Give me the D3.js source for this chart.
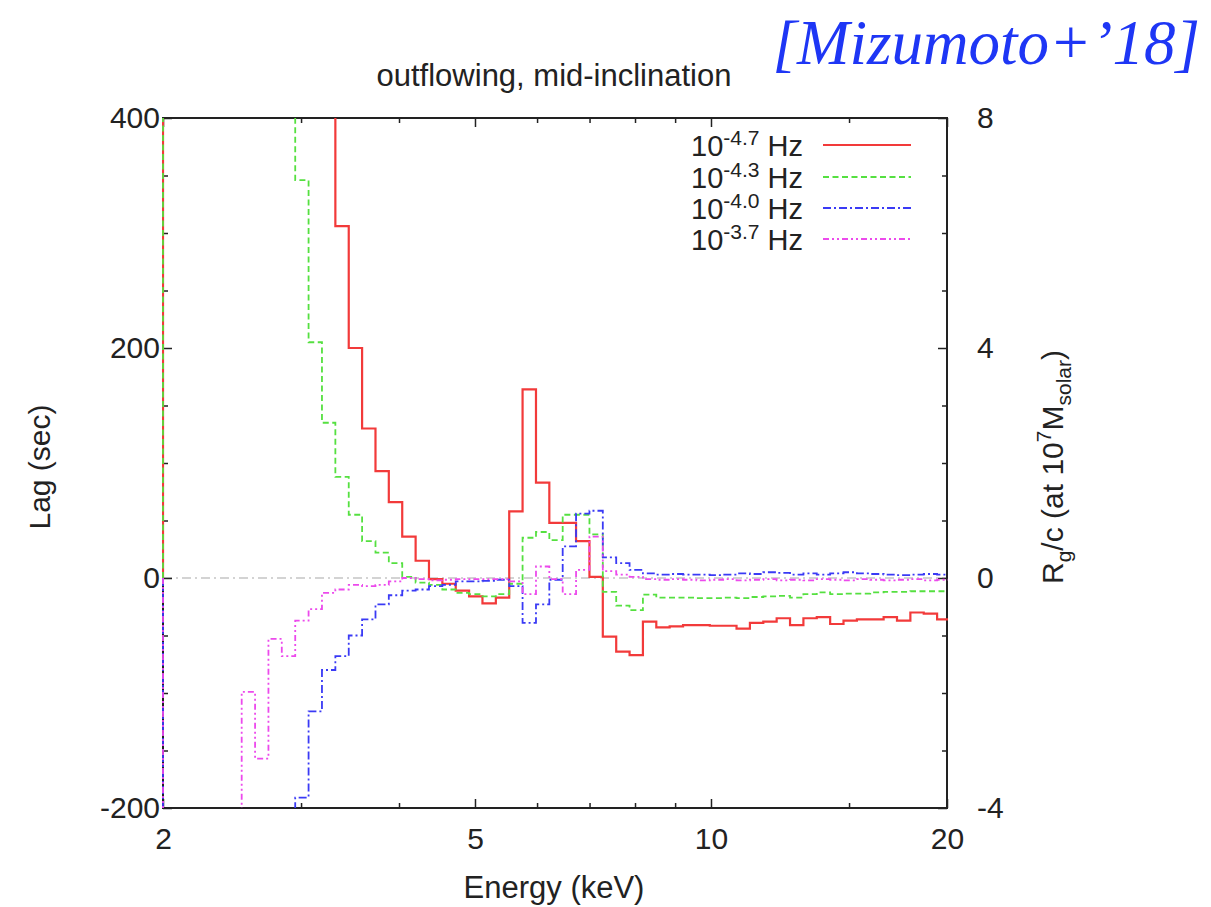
<!DOCTYPE html>
<html><head><meta charset="utf-8">
<script src="https://cdn.jsdelivr.net/npm/d3@7"></script>
<style>body{margin:0;background:#fff;} svg{display:block;}</style>
</head><body>
<svg id="c" width="1211" height="907"></svg>
<script>
// ---- data ----
const energyEdges = [2.000, 2.071, 2.154, 2.240, 2.330, 2.423, 2.520, 2.621, 2.726, 2.835,
  2.949, 3.067, 3.190, 3.318, 3.451, 3.589, 3.733, 3.882, 4.038, 4.200,
  4.368, 4.543, 4.725, 4.914, 5.111, 5.316, 5.529, 5.750, 5.981, 6.220,
  6.469, 6.728, 6.998, 7.278, 7.570, 7.873, 8.188, 8.516, 8.857, 9.212,
  9.581, 9.965, 10.364, 10.779, 11.211, 11.660, 12.127, 12.613, 13.118, 13.643,
  14.190, 14.758, 15.349, 15.964, 16.603, 17.268, 17.960, 18.679, 19.427, 20.205];

const lagF47 = [1500, 1400, 1300, 1200, 1100, 1000, 900, 800, 720, 640,
  570, 500, 440, 306, 200, 130, 93, 66, 36, 15,
  -1, -5, -11, -16, -22, -17, 58, 164, 83, 48,
  48, 32, 1, -51, -64, -67, -38, -43, -42, -41,
  -41, -41.5, -41.5, -44, -39, -38, -35, -41, -35, -34,
  -40, -37, -36, -36, -34, -37, -30, -31, -36];

const lagF43 = [1200, 1100, 1000, 900, 800, 720, 640, 570, 500, 440,
  346, 205, 135, 88, 55, 32, 22, 13, 1, -4,
  -6, -10, -13, -14, -16, -14, -5, 35, 40, 33,
  55, 55, 38, -12, -24, -28, -14.5, -17, -17, -17,
  -17.5, -17.5, -17, -17.5, -16.5, -16, -15.5, -17, -14, -12.5,
  -14, -13.5, -13.5, -12.5, -12, -12, -11.5, -11.5, -11.5];

const lagF40 = [-600, -560, -520, -480, -440, -400, -360, -320, -280, -240,
  -191, -116, -80, -68, -50, -36, -23, -15, -11, -10,
  -7, -6, -3, -3, -2.5, -1.5, -7, -39, -23, -1.5,
  27.5, 56, 58.5, 18, 13, 7, 4, 3, 3.5, 3,
  3, 2.5, 3, 4, 3.5, 5, 4.5, 3, 4, 3,
  4, 5, 4, 3.5, 3, 2.5, 3, 3.5, 3];

const lagF37 = [-500, -450, -400, -350, -300, -250, -99, -157, -53, -68,
  -37, -27, -13, -10, -6, -7, -6, -3, 0, -1,
  -2, -1.5, -1, -1, -1, -1, -3, -14, 10, -1,
  -14, 7, 36, 6, 3, 1, -1, -1.5, -1, -1.5,
  -2, -1.5, -1, -2, -1.5, -1, -2, -1.5, -2, -1,
  -1.5, -2, -1, -1.5, -2, -1.5, -1, -2, -1.5];

const seriesNames = ["-4.7", "-4.3", "-4.0", "-3.7"];
const xTickMajor = [2, 5, 10, 20];
const xTickMinor = [3, 4, 6, 7, 8, 9, 15];
const yTickMajor = [-200, 0, 200, 400];
const yTickMinor = [-150, -100, -50, 50, 100, 150, 250, 300, 350];
const y2TickMajor = [-4, 0, 4, 8];
const y2TickMinor = [-3, -2, -1, 1, 2, 3, 5, 6, 7];

// ---- layout ----
const svg = d3.select("#c");
const L = 163, R = 947, T = 118, B = 808;
const FONT = "'Liberation Sans', Arial, Helvetica, sans-serif";
const x = d3.scaleLog().domain([2, 20]).range([L, R]);
const y = d3.scaleLinear().domain([-200, 400]).range([B, T]);
const y2 = d3.scaleLinear().domain([-4, 8]).range([B, T]);
const fmt = d => String(d);

const styles = [
  {data: lagF47, color: "#f23a3a", width: 2.2, dash: null},
  {data: lagF43, color: "#55e040", width: 1.8, dash: "6,3.5"},
  {data: lagF40, color: "#3a3af5", width: 1.8, dash: "8,3,2,3"},
  {data: lagF37, color: "#ec4aec", width: 1.8, dash: "6,3,2,3,2,3"}
];

svg.append("defs").append("clipPath").attr("id", "clip")
  .append("rect").attr("x", L - 1).attr("y", T).attr("width", R - L + 2).attr("height", B - T);

// zero axis
svg.append("line").attr("x1", L).attr("x2", R).attr("y1", y(0)).attr("y2", y(0))
  .attr("stroke", "#a8a8a8").attr("stroke-width", 1.2).attr("stroke-dasharray", "9,4,2,4");

// axes
function styleAxis(g) {
  g.select(".domain").remove();
  g.selectAll(".tick line").attr("stroke", "#222").attr("stroke-width", 1.5);
  g.selectAll(".tick text").attr("font-family", FONT).attr("font-size", 30).attr("fill", "#222");
}
svg.append("g").attr("transform", `translate(0,${B})`)
  .call(d3.axisBottom(x).tickValues(xTickMajor).tickFormat(fmt).tickSize(-9).tickPadding(20))
  .call(styleAxis);
svg.append("g").attr("transform", `translate(0,${B})`)
  .call(d3.axisBottom(x).tickValues(xTickMinor).tickFormat("").tickSize(-5))
  .call(styleAxis);
svg.append("g").attr("transform", `translate(0,${T})`)
  .call(d3.axisTop(x).tickValues(xTickMajor).tickFormat("").tickSize(-9))
  .call(styleAxis);
svg.append("g").attr("transform", `translate(0,${T})`)
  .call(d3.axisTop(x).tickValues(xTickMinor).tickFormat("").tickSize(-5))
  .call(styleAxis);
svg.append("g").attr("transform", `translate(${L},0)`)
  .call(d3.axisLeft(y).tickValues(yTickMajor).tickFormat(fmt).tickSize(-9).tickPadding(3))
  .call(styleAxis);
svg.append("g").attr("transform", `translate(${L},0)`)
  .call(d3.axisLeft(y).tickValues(yTickMinor).tickFormat("").tickSize(-5))
  .call(styleAxis);
svg.append("g").attr("transform", `translate(${R},0)`)
  .call(d3.axisRight(y2).tickValues(y2TickMajor).tickFormat(fmt).tickSize(-9).tickPadding(30))
  .call(styleAxis);
svg.append("g").attr("transform", `translate(${R},0)`)
  .call(d3.axisRight(y2).tickValues(y2TickMinor).tickFormat("").tickSize(-5))
  .call(styleAxis);

// frame
svg.append("rect").attr("x", L).attr("y", T).attr("width", R - L).attr("height", B - T)
  .attr("fill", "none").attr("stroke", "#222").attr("stroke-width", 2);

// step curves
const line = d3.line().x(d => x(d[0])).y(d => y(d[1]));
function stepPoints(vals) {
  const pts = [[energyEdges[0], 0]];
  vals.forEach((v, i) => { pts.push([energyEdges[i], v]); pts.push([energyEdges[i + 1], v]); });
  return pts;
}
const plot = svg.append("g").attr("clip-path", "url(#clip)");
styles.forEach(s => {
  plot.append("path").attr("d", line(stepPoints(s.data)))
    .attr("fill", "none").attr("stroke", s.color).attr("stroke-width", s.width)
    .attr("stroke-dasharray", s.dash).attr("stroke-linejoin", "miter");
});

// legend
const legY = [145, 177, 208, 239];
styles.forEach((s, i) => {
  const t = svg.append("text").attr("x", 803).attr("y", legY[i] + 11).attr("text-anchor", "end")
    .attr("font-family", FONT).attr("font-size", 29).attr("fill", "#222");
  t.append("tspan").text("10");
  t.append("tspan").attr("dy", -11).attr("font-size", 21).text(seriesNames[i]);
  t.append("tspan").attr("dy", 11).text(" Hz");
  svg.append("line").attr("x1", 823).attr("x2", 911).attr("y1", legY[i]).attr("y2", legY[i])
    .attr("stroke", s.color).attr("stroke-width", s.width).attr("stroke-dasharray", s.dash);
});

// titles
svg.append("text").attr("x", 554).attr("y", 86).attr("text-anchor", "middle")
  .attr("font-family", FONT).attr("font-size", 31).attr("fill", "#222")
  .text("outflowing, mid-inclination");
svg.append("text").attr("x", 554).attr("y", 898).attr("text-anchor", "middle")
  .attr("font-family", FONT).attr("font-size", 31).attr("fill", "#222")
  .text("Energy (keV)");
svg.append("text").attr("transform", "translate(50,467) rotate(-90)").attr("text-anchor", "middle")
  .attr("font-family", FONT).attr("font-size", 30).attr("fill", "#222")
  .text("Lag (sec)");
const rl = svg.append("text").attr("transform", "translate(1063,467) rotate(-90)").attr("text-anchor", "middle")
  .attr("font-family", FONT).attr("font-size", 30).attr("fill", "#222");
rl.append("tspan").text("R");
rl.append("tspan").attr("dy", 8).attr("font-size", 21).text("g");
rl.append("tspan").attr("dy", -8).text("/c (at 10");
rl.append("tspan").attr("dy", -12).attr("font-size", 21).text("7");
rl.append("tspan").attr("dy", 12).text("M");
rl.append("tspan").attr("dy", 8).attr("font-size", 21).text("solar");
rl.append("tspan").attr("dy", -8).text(")");

svg.append("text").attr("x", 1200).attr("y", 64).attr("text-anchor", "end")
  .attr("font-family", "'Liberation Serif', 'DejaVu Serif', serif").attr("font-style", "italic")
  .attr("font-size", 63).attr("fill", "#1e36f5")
  .text("[Mizumoto+\u201918]");
</script>
</body></html>
